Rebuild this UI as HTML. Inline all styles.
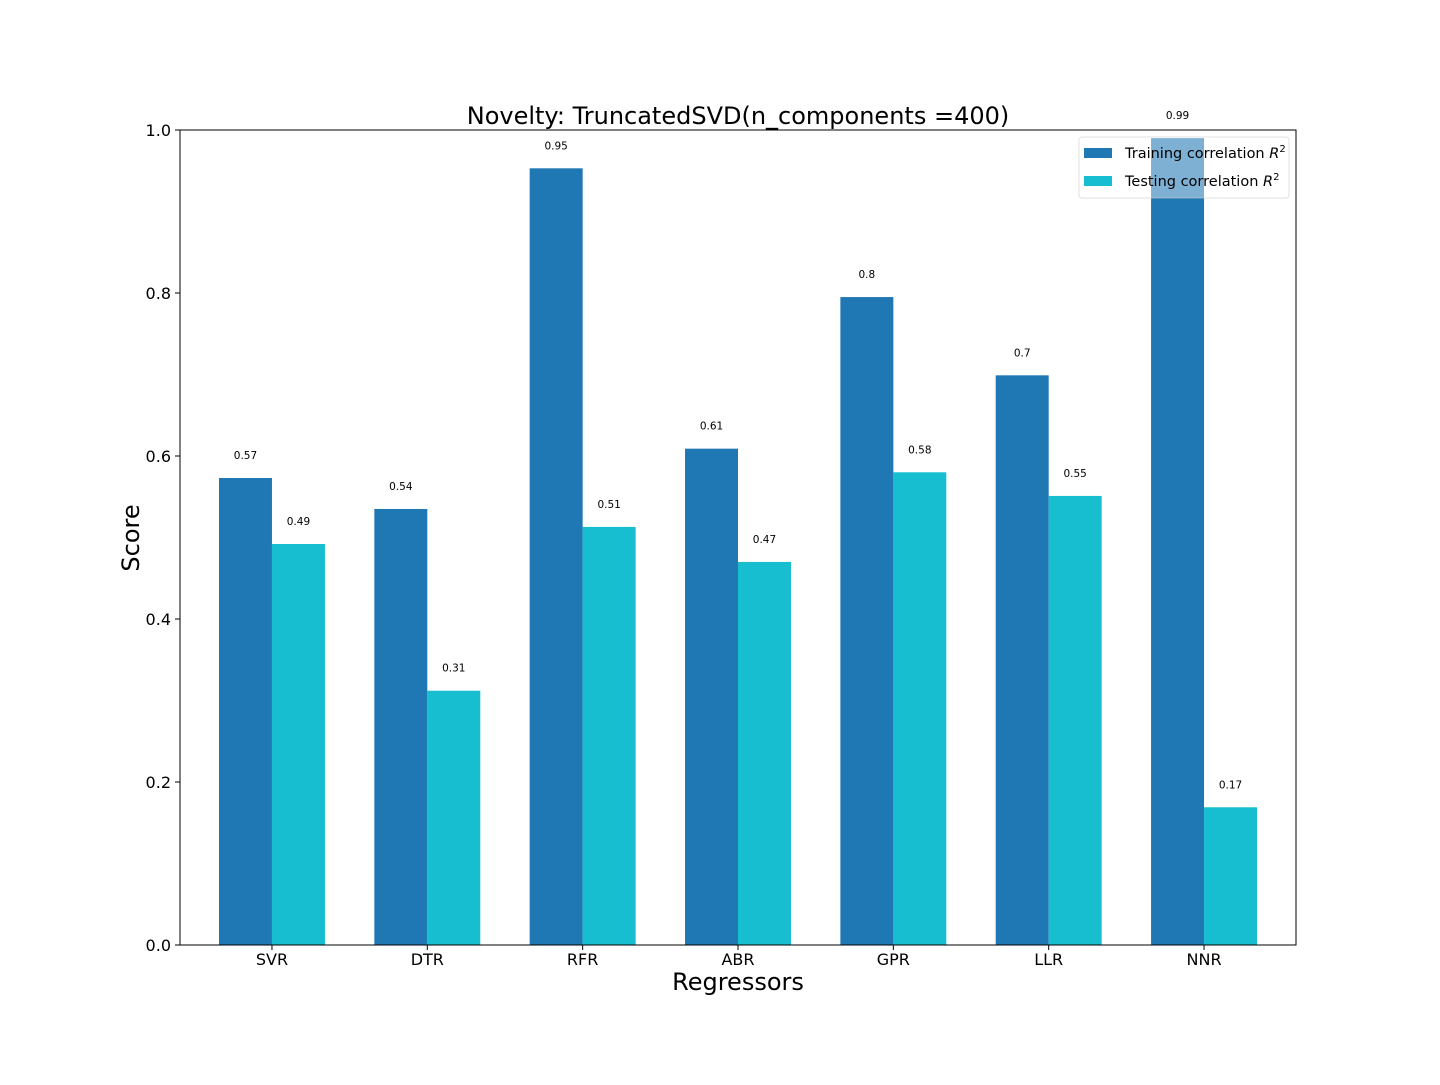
<!DOCTYPE html>
<html><head><meta charset="utf-8"><style>
body{margin:0;background:#fff;}
svg text{font-family:"DejaVu Sans","Liberation Sans",sans-serif;}
</style></head><body>
<svg id="chart" width="1440" height="1080" viewBox="0 0 1440 1080" xmlns="http://www.w3.org/2000/svg">
<rect width="1440" height="1080" fill="#fff"/>
<g id="bars"></g>
<g id="labels"></g>
<g id="axes"></g>
<text x="738" y="124" font-size="24" text-anchor="middle">Novelty: TruncatedSVD(n_components =400)</text>
<text x="738" y="990" font-size="24" text-anchor="middle">Regressors</text>
<text x="139" y="538" font-size="24" text-anchor="middle" transform="rotate(-90 139 538)">Score</text>
<g>
<rect x="1079" y="137" width="210" height="61" rx="3" fill="#fff" fill-opacity="0.42" stroke="#ccc" stroke-opacity="0.6"/>
<rect x="1084" y="148" width="28" height="10" fill="#1f77b4"/>
<text x="1125" y="158" font-size="14.5">Training correlation <tspan font-style="italic">R</tspan><tspan font-size="10" dy="-6">2</tspan></text>
<rect x="1084" y="176" width="28" height="10" fill="#17becf"/>
<text x="1125" y="186" font-size="14.5">Testing correlation <tspan font-style="italic">R</tspan><tspan font-size="10" dy="-6">2</tspan></text>
</g>
</svg>
<script>
const categories = ["SVR","DTR","RFR","ABR","GPR","LLR","NNR"];
const trainValues = [0.573,0.535,0.953,0.609,0.795,0.699,0.990];
const testValues = [0.492,0.312,0.513,0.470,0.580,0.551,0.169];
const yTicks = [0.0,0.2,0.4,0.6,0.8,1.0];
const yTickLabels = ["0.0","0.2","0.4","0.6","0.8","1.0"];

const L=180,R=1296,T=130,B=945;
const unit=(R-L)/(categories.length-1+2*0.592);
const xs=i=>L+(i+0.592)*unit;
const ys=v=>B-v*(B-T);
const bw=0.341*unit;
const NS="http://www.w3.org/2000/svg";
function mk(tag,attrs,parent,txt){const e=document.createElementNS(NS,tag);for(const k in attrs)e.setAttribute(k,attrs[k]);if(txt!==undefined)e.textContent=txt;parent.appendChild(e);return e;}
const bars=document.getElementById('bars'),labels=document.getElementById('labels'),axes=document.getElementById('axes');
function fmt(v){let r=Math.round(v*100)/100;return String(r);}
categories.forEach((c,i)=>{
  [[trainValues,"#1f77b4",-1,"train"],[testValues,"#17becf",0,"test"]].forEach(([arr,col,off,nm])=>{
    const x=xs(i)+off*bw,v=arr[i];
    const b=mk('rect',{x:x,y:ys(v),width:bw,height:B-ys(v),fill:col},bars);
    
    
    const t=mk('text',{x:x+bw/2,y:ys(v)-19,'font-size':10.5,'text-anchor':'middle'},labels,fmt(v));
    
    
  });
  mk('line',{x1:xs(i),x2:xs(i),y1:B,y2:B+5,stroke:'#000'},axes);
  const t=mk('text',{x:xs(i),y:B+20,'font-size':16,'text-anchor':'middle'},axes,c);
  
  
});
yTicks.forEach((v,i)=>{
  mk('line',{x1:L-5,x2:L,y1:ys(v),y2:ys(v),stroke:'#000'},axes);
  const t=mk('text',{x:L-9,y:ys(v)+6,'font-size':16,'text-anchor':'end'},axes,yTickLabels[i]);
  
  
});
const f=mk('rect',{x:L,y:T,width:R-L,height:B-T,fill:'none',stroke:'#000','stroke-width':1},axes);


</script>
</body></html>
